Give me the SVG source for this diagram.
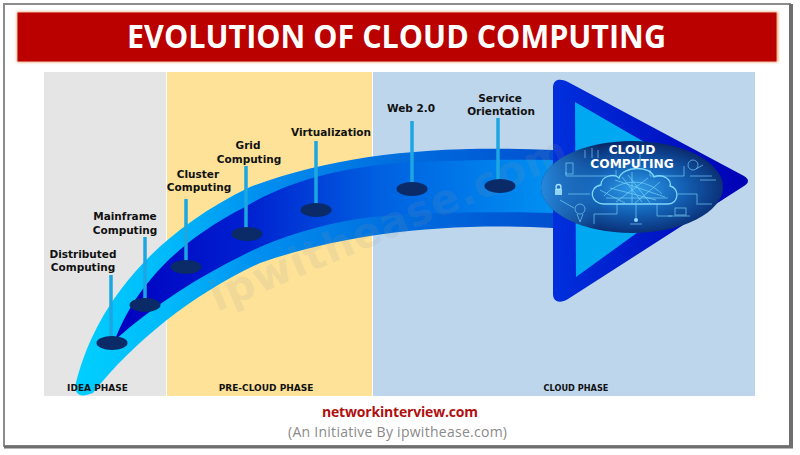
<svg xmlns="http://www.w3.org/2000/svg" width="800" height="455" viewBox="0 0 800 455">
<style>
.lbl{font:bold 10.500px "DejaVu Sans",Verdana,sans-serif;fill:#111;text-anchor:middle}
.ph{font:bold 9px "DejaVu Sans",Verdana,sans-serif;fill:#111;text-anchor:middle}
.stem{stroke:#1ca6e2;stroke-width:3.5;fill:none}
.dot{fill:#0a2a68}
.cir{stroke:#7fd8fa;stroke-width:.8;fill:none;opacity:.8}
.orbt{font:bold 12.200px "DejaVu Sans",sans-serif;fill:#fff;text-anchor:middle}
</style>
<defs>
<linearGradient id="gOuter" gradientUnits="userSpaceOnUse" x1="75" y1="0" x2="553" y2="0">
<stop offset="0" stop-color="#00d0ff"/><stop offset=".2" stop-color="#00b8fa"/><stop offset=".38" stop-color="#0090f0"/><stop offset=".65" stop-color="#0070e0"/><stop offset="1" stop-color="#0050d0"/>
</linearGradient>
<linearGradient id="gInner" gradientUnits="userSpaceOnUse" x1="115" y1="0" x2="553" y2="0">
<stop offset="0" stop-color="#0000c0"/><stop offset=".3" stop-color="#0020d0"/><stop offset=".6" stop-color="#0060e0"/><stop offset="1" stop-color="#0090f2"/>
</linearGradient>
<linearGradient id="gHead" gradientUnits="userSpaceOnUse" x1="553" y1="0" x2="749" y2="0">
<stop offset="0" stop-color="#0030dc"/><stop offset="1" stop-color="#0000b4"/>
</linearGradient>
<radialGradient id="gOrb" cx=".52" cy=".52" r=".55">
<stop offset="0" stop-color="#2f9ce8"/><stop offset=".45" stop-color="#1464b8"/><stop offset=".8" stop-color="#0c3a84"/><stop offset="1" stop-color="#08205c"/>
</radialGradient>
<linearGradient id="gOrbL" x1="0" x2="1" y1="0" y2="0">
<stop offset="0" stop-color="#2a94ea" stop-opacity=".9"/><stop offset=".32" stop-color="#2a94ea" stop-opacity="0"/>
</linearGradient>
<filter id="glow" x="-5%" y="-20%" width="110%" height="140%"><feGaussianBlur stdDeviation="1.500"/></filter>
<clipPath id="orbClip"><ellipse cx="632" cy="187" rx="91" ry="46"/></clipPath>
</defs>

<rect width="800" height="455" fill="#fff"/>
<g id="frame" fill="none">
<rect x="4" y="4" width="786" height="442" stroke="#8c8c8c" stroke-width="2"/>
<path d="M791 4V447" stroke="#6e6e6e" stroke-width="4"/>
<path d="M4 447H793" stroke="#6e6e6e" stroke-width="3"/>
</g>

<g id="title">
<rect x="17" y="12" width="761" height="50" fill="#e89a60" filter="url(#glow)"/>
<rect x="17.500" y="12.500" width="759" height="49" fill="#bb0000"/>
<text x="396.500" y="48" font-family="'Open Sans','Noto Sans',sans-serif" font-weight="700" font-size="33" fill="#fff" text-anchor="middle" textLength="539" lengthAdjust="spacingAndGlyphs">EVOLUTION OF CLOUD COMPUTING</text>
</g>

<g id="phases">
<g id="idea-phase"><rect x="44" y="72" width="122" height="324" fill="#e6e5e6"/></g>
<g id="pre-cloud-phase"><rect x="167" y="72" width="205" height="324" fill="#fde298"/></g>
<g id="cloud-phase"><rect x="373" y="72" width="382" height="324" fill="#bdd6ec"/></g>
</g>

<g id="arrow">
<path d="M553 88C553 79 560 78 568 82L744 176Q752 181 744 186L568 299C560 304 553 302 553 294Z" fill="url(#gHead)"/>
<path d="M575 102L710 180L576 277Z" fill="#00a8f2"/>
<path d="M75 387C88 330 130 245 250 187C340 153 440 145 553 150V228C440 222 340 235 260 263C195 293 135 340 93 393Q76 400 75 387Z" fill="url(#gOuter)"/>
<path d="M115 340C128 305 160 250 245 207C290 180 340 168 400 163C450 160 500 159 553 160V213C500 212 440 211 373 217C335 221 295 232 260 247C210 270 160 300 115 340Z" fill="url(#gInner)"/>
</g>

<text id="watermark" transform="translate(217 312) rotate(-23)" font-family="'DejaVu Sans',sans-serif" font-weight="bold" font-size="42" letter-spacing="1" fill="#9a9a9a" fill-opacity=".14">ipwithease.com</text>

<g id="connectors">
<path class="stem" d="M111 275V337"/>
<path class="stem" d="M145 237V299"/>
<path class="stem" d="M186 199V262"/>
<path class="stem" d="M246 166V228"/>
<path class="stem" d="M316 141V205"/>
<path class="stem" d="M412 121V183"/>
<path class="stem" d="M498 118V180"/>
</g>

<g id="distributed"><ellipse class="dot" cx="112" cy="343" rx="15.500" ry="7"/><text class="lbl" x="83" y="258">Distributed</text><text class="lbl" x="83" y="271">Computing</text></g>
<g id="mainframe"><ellipse class="dot" cx="145" cy="305" rx="15.500" ry="7"/><text class="lbl" x="125" y="220">Mainframe</text><text class="lbl" x="125" y="234">Computing</text></g>
<g id="cluster"><ellipse class="dot" cx="186" cy="267" rx="15.500" ry="7"/><text class="lbl" x="198" y="178">Cluster</text><text class="lbl" x="199" y="191">Computing</text></g>
<g id="grid"><ellipse class="dot" cx="247" cy="234" rx="15.500" ry="7"/><text class="lbl" x="248" y="149">Grid</text><text class="lbl" x="249" y="163">Computing</text></g>
<g id="virtualization"><ellipse class="dot" cx="316" cy="210" rx="15.500" ry="7"/><text class="lbl" x="331" y="136">Virtualization</text></g>
<g id="web"><ellipse class="dot" cx="412" cy="189" rx="15.500" ry="7"/><text class="lbl" x="411" y="112">Web 2.0</text></g>
<g id="service"><ellipse class="dot" cx="500" cy="186" rx="15.500" ry="7"/><text class="lbl" x="500" y="102">Service</text><text class="lbl" x="501" y="115">Orientation</text></g>

<g id="cloud-computing">
<ellipse cx="632" cy="187" rx="91" ry="46" fill="url(#gOrb)"/>
<ellipse cx="632" cy="187" rx="91" ry="46" fill="url(#gOrbL)"/>
<g clip-path="url(#orbClip)">
<path class="cir" d="M604 204C590 204 588 187 601 185C601 176 614 173 619 178C623 166 650 165 654 177C663 173 672 180 670 186C680 188 679 204 668 204Z" style="stroke-width:1.300;opacity:1"/>
<path class="cir" d="M604 196C618 180 644 176 662 194M610 188L656 200M622 177L642 202M606 198H668M632 172V203M648 178L616 202M600 190L625 203M660 182L635 203M615 180L665 197M628 175L650 203"/>
<path class="cir" d="M590 194H568M566 172V176H616V170M640 167V150M676 194H697V205M617 204V214H594V224M636 204V218M657 204V216H672M650 170V176H684V166"/>
<rect class="cir" x="566" y="163" width="7" height="11"/>
<rect class="cir" x="675" y="208" width="11" height="7"/>
<path class="cir" d="M668 216H690M698 204H712"/>
<rect x="555" y="189" width="7" height="6" fill="#a8e4ff" opacity=".85"/>
<circle class="cir" cx="558.500" cy="187" r="2.500" style="stroke-width:1.300;stroke:#a8e4ff;opacity:1"/>
<circle class="cir" cx="580" cy="209" r="5"/>
<path class="cir" d="M577 214L580 222L583 214"/>
<circle cx="636" cy="220" r="2" fill="#8fdcff"/><path class="cir" d="M630 224H642"/>
<circle class="cir" cx="693" cy="165" r="5"/><path class="cir" d="M696 169L703 165"/>
<path class="cir" d="M585 150V158M592 148V158M598 150V158M686 148L694 152M574 208L560 200M690 176H712M700 180H716"/>
</g>
<text class="orbt" x="632" y="154">CLOUD</text>
<text class="orbt" x="632" y="168">COMPUTING</text>
</g>

<g id="phase-labels">
<text class="ph" x="97.500" y="391">IDEA PHASE</text>
<text class="ph" x="266" y="391">PRE-CLOUD PHASE</text>
<text class="ph" x="576" y="391" style="font-size:8.200px">CLOUD PHASE</text>
</g>

<g id="footer">
<text x="400" y="417" font-family="'Open Sans','Noto Sans',sans-serif" font-weight="700" font-size="14" fill="#b01010" text-anchor="middle" textLength="156">networkinterview.com</text>
<text x="397.500" y="437" font-family="'Open Sans','Noto Sans',sans-serif" font-size="14" fill="#8a8a8a" text-anchor="middle" textLength="219">(An Initiative By ipwithease.com)</text>
</g>
</svg>
